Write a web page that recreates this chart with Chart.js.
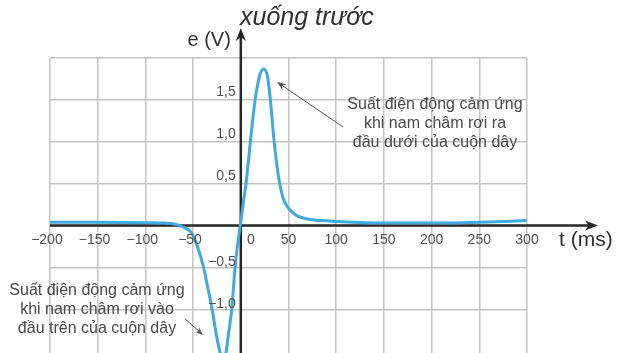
<!DOCTYPE html>
<html>
<head>
<meta charset="utf-8">
<script src="https://cdn.jsdelivr.net/npm/chart.js@4/dist/chart.umd.min.js"></script>
<style>
  html, body { margin: 0; padding: 0; background: #ffffff; }
  canvas { display: block; }
</style>
</head>
<body>
<canvas id="chart" width="622" height="353"></canvas>
<script>
// Suất điện động cảm ứng e (V) theo thời gian t (ms)
const timeMs = [-200, -150, -100, -80, -70, -64, -58, -52, -48, -44, -39, -35, -30, -26, -22, -19, -16, -13, -9.5, -6,
  -3, 0, 3, 6, 10, 15, 20, 24, 28, 31, 35, 40, 44, 48, 53, 60, 70, 85, 100, 130, 170, 210, 250, 300]
const emfVolts = [0.04, 0.04, 0.035, 0.03, 0.02, 0.0, -0.03, -0.08, -0.17, -0.3, -0.5, -0.72, -1.0, -1.28, -1.5, -1.6, -1.55, -1.3, -1.0, -0.5,
  -0.2, 0.05, 0.3, 0.55, 1.0, 1.5, 1.8, 1.87, 1.78, 1.5, 1.0, 0.55, 0.34, 0.24, 0.17, 0.11, 0.08, 0.06, 0.05, 0.035, 0.03, 0.03, 0.04, 0.06]

// gridlines and tick labels
const xGrid = [-200, -150, -100, -50, 0, 50, 100, 150, 200, 250, 300]
const yGrid = [-1.0, -0.5, 0, 0.5, 1.0, 1.5, 2.0]
const xLabels = [-200, -150, -100, -50, 0, 50, 100, 150, 200, 250, 300]
const yLabels = [1.5, 1.0, 0.5, -0.5, -1.0]

const noteTop = ['Suất điện động cảm ứng', 'khi nam châm rơi ra', 'đầu dưới của cuộn dây']
const noteBottom = ['Suất điện động cảm ứng', 'khi nam châm rơi vào', 'đầu trên của cuộn dây']

const FONT = "'Liberation Sans', Arial, sans-serif"
const AXIS_COLOR = '#262626'
const LABEL_COLOR = '#505050'

function fmt(v) {
  return v.toFixed(1).replace('.', ',').replace('-', '−')
}

function arrowHead(ctx, x, y, angle, len, half) {
  ctx.save()
  ctx.translate(x, y)
  ctx.rotate(angle)
  ctx.beginPath()
  ctx.moveTo(0, 0)
  ctx.lineTo(-len, -half)
  ctx.lineTo(-len * 0.7, 0)
  ctx.lineTo(-len, half)
  ctx.closePath()
  ctx.fill()
  ctx.restore()
}

// axes with arrows, drawn under the curve
const axesPlugin = {
  id: 'axes',
  beforeDatasetsDraw(chart) {
    const { ctx, scales: { x, y }, chartArea } = chart
    const x0 = x.getPixelForValue(0)
    const y0 = y.getPixelForValue(0)
    ctx.save()
    ctx.strokeStyle = AXIS_COLOR
    ctx.fillStyle = AXIS_COLOR
    ctx.lineWidth = 2.5
    ctx.beginPath()
    ctx.moveTo(chartArea.left, y0)
    ctx.lineTo(590, y0)
    ctx.stroke()
    arrowHead(ctx, 598, y0, 0, 13, 5)
    ctx.beginPath()
    ctx.moveTo(x0, chart.height)
    ctx.lineTo(x0, 36)
    ctx.stroke()
    arrowHead(ctx, x0, 28, -Math.PI / 2, 13, 5)
    ctx.restore()
  }
}

// tick labels, axis titles and annotations
const labelsPlugin = {
  id: 'labels',
  afterDraw(chart) {
    const { ctx, scales: { x, y } } = chart
    const x0 = x.getPixelForValue(0)
    const y0 = y.getPixelForValue(0)
    ctx.save()
    ctx.fillStyle = LABEL_COLOR
    ctx.font = '14px ' + FONT
    ctx.textBaseline = 'middle'

    xLabels.forEach(v => {
      const px = x.getPixelForValue(v)
      const digits = String(Math.abs(v))
      const w = ctx.measureText(digits).width
      if (v < 0) {
        ctx.textAlign = 'right'
        ctx.fillText('−' + digits, px + w / 2 + 1, y0 + 15)
      } else if (v === 0) {
        ctx.textAlign = 'center'
        ctx.fillText('0', px + 10, y0 + 15)
      } else {
        ctx.textAlign = 'center'
        ctx.fillText(digits, px, y0 + 15)
      }
    })

    ctx.textAlign = 'right'
    yLabels.forEach(v => {
      const py = y.getPixelForValue(v)
      ctx.fillText(fmt(v), x0 - 5, py + (v > 0 ? -8 : -5))
    })

    // axis titles
    ctx.fillStyle = '#303030'
    ctx.font = '20px ' + FONT
    ctx.textAlign = 'right'
    ctx.fillText('e (V)', x0 - 10, 40)
    ctx.font = '21px ' + FONT
    ctx.textAlign = 'left'
    ctx.fillText('t (ms)', 559, y0 + 15)
    ctx.font = 'italic 25px ' + FONT
    ctx.fillText('xuống trước', 240, 18)

    // annotations
    ctx.fillStyle = '#4a4a4a'
    ctx.font = '16px ' + FONT
    ctx.textAlign = 'center'
    noteTop.forEach((s, i) => ctx.fillText(s, 435, 105 + i * 19))
    noteBottom.forEach((s, i) => ctx.fillText(s, 97, 291 + i * 19))

    ctx.strokeStyle = '#555'
    ctx.fillStyle = '#555'
    ctx.lineWidth = 1
    ctx.beginPath()
    ctx.moveTo(343, 127)
    ctx.lineTo(280, 84)
    ctx.stroke()
    arrowHead(ctx, 277, 82, Math.atan2(82 - 127, 277 - 343), 9, 3.5)
    ctx.beginPath()
    ctx.moveTo(185, 319)
    ctx.lineTo(200, 332)
    ctx.stroke()
    arrowHead(ctx, 203, 335, Math.atan2(335 - 319, 203 - 185), 8, 3)
    ctx.restore()
  }
}

new Chart(document.getElementById('chart').getContext('2d'), {
  type: 'line',
  data: {
    datasets: [{
      data: timeMs.map((t, i) => ({ x: t, y: emfVolts[i] })),
      borderColor: '#40aade',
      borderWidth: 3,
      pointRadius: 0,
      fill: false,
      cubicInterpolationMode: 'monotone'
    }]
  },
  options: {
    responsive: false,
    animation: false,
    layout: { padding: { left: 50, right: 95, top: 58, bottom: 0 } },
    plugins: { legend: { display: false }, tooltip: { enabled: false } },
    scales: {
      x: {
        type: 'linear',
        min: -200,
        max: 300,
        afterBuildTicks: s => { s.ticks = xGrid.map(v => ({ value: v })) },
        ticks: { display: false },
        grid: { color: '#c4c4c4', lineWidth: 1.5, drawTicks: false },
        border: { display: false }
      },
      y: {
        type: 'linear',
        min: -1.52,
        max: 2.0,
        afterBuildTicks: s => { s.ticks = yGrid.map(v => ({ value: v })) },
        ticks: { display: false },
        grid: { color: '#c4c4c4', lineWidth: 1.5, drawTicks: false },
        border: { display: false }
      }
    }
  },
  plugins: [axesPlugin, labelsPlugin]
})
</script>
</body>
</html>
